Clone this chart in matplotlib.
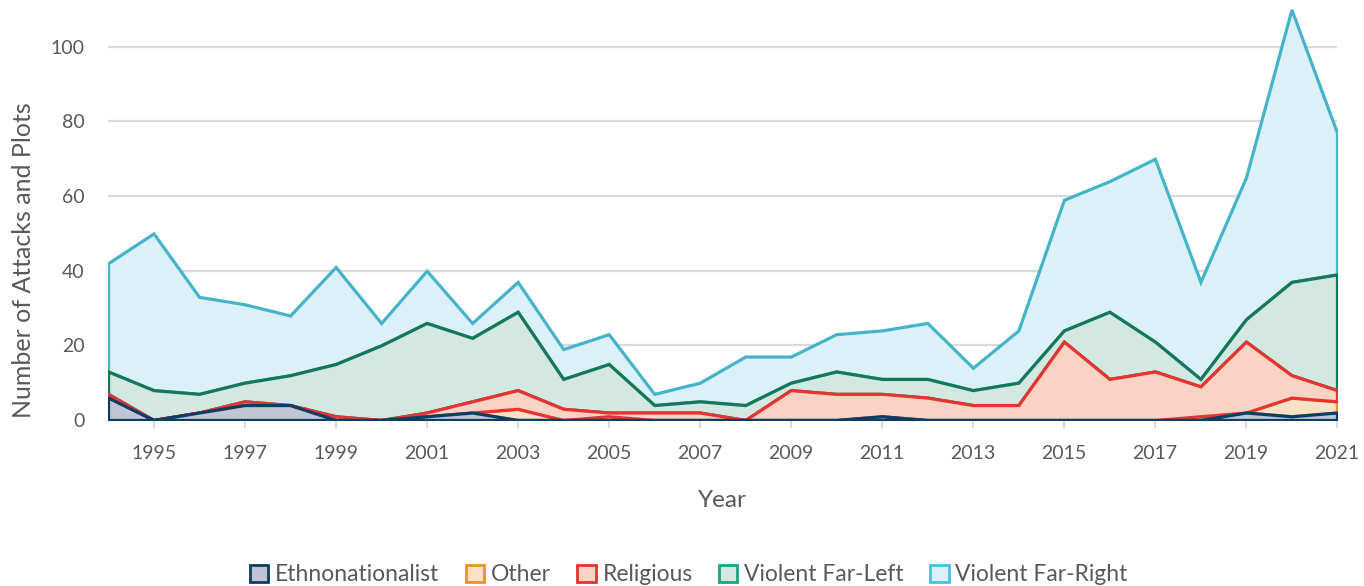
import matplotlib
matplotlib.use("Agg")
import matplotlib.pyplot as plt
from matplotlib.patches import Patch
import numpy as np

plt.rcParams["font.family"] = ["Lato", "DejaVu Sans"]

years = list(range(1994, 2022))

ethnonationalist = [6, 0, 2, 4, 4, 0, 0, 1, 2, 0, 0, 0, 0, 0,
                    0, 0, 0, 1, 0, 0, 0, 0, 0, 0, 0, 2, 1, 2]
other = [0, 0, 0, 0, 0, 0, 0, 0, 0, 3, 0, 1, 0, 0,
         0, 0, 0, 0, 0, 0, 0, 0, 0, 0, 1, 0, 5, 3]
religious = [1, 0, 0, 1, 0, 1, 0, 1, 3, 5, 3, 1, 2, 2,
             0, 8, 7, 6, 6, 4, 4, 21, 11, 13, 8, 19, 6, 3]
far_left = [6, 8, 5, 5, 8, 14, 20, 24, 17, 21, 8, 13, 2, 3,
            4, 2, 6, 4, 5, 4, 6, 3, 18, 8, 2, 6, 25, 31]
far_right = [29, 42, 26, 21, 16, 26, 6, 14, 4, 8, 8, 8, 3, 5,
             13, 7, 10, 13, 15, 6, 14, 35, 35, 49, 26, 38, 73, 38]

series_names = ["Ethnonationalist", "Other", "Religious",
                "Violent Far-Left", "Violent Far-Right"]
line_colors = ["#0e3d63", "#e8922c", "#e83330", "#14775a", "#46b4c8"]
fill_colors = ["#c1c5d4", "#fbe2c6", "#f9d3c4", "#d3e8e0", "#dcf0f7"]
legend_edges = ["#0e3d63", "#e8922c", "#e83330", "#1ea383", "#44c4e6"]
legend_fills = ["#bfc3d3", "#fbe2c6", "#f9d3c4", "#d3e8e0", "#dcf0f7"]

data = np.array([ethnonationalist, other, religious, far_left, far_right], dtype=float)
tops = np.cumsum(data, axis=0)
bottoms = np.vstack([np.zeros(len(years)), tops[:-1]])

fig = plt.figure(figsize=(13.64, 5.86), dpi=100)
ax = fig.add_axes([0.0792, 0.2833, 0.901, 0.7133])

# stacked areas, outlined all round; upper layers first so lower outlines stay visible
draw_order = [4, 3, 1, 2, 0]
for k, i in enumerate(draw_order):
    ax.fill_between(years, bottoms[i], tops[i], facecolor=fill_colors[i],
                    edgecolor=line_colors[i], linewidth=2.3, joinstyle="miter",
                    zorder=3 + k * 0.1)

ax.set_xlim(1994, 2021)
ax.set_ylim(0, 112)
ax.set_yticks([0, 20, 40, 60, 80, 100])
ax.set_xticks(list(range(1995, 2022, 2)))

ax.grid(axis="y", color="#d9d9d9", linewidth=1.6, zorder=0)
ax.set_axisbelow(True)
for s in ax.spines.values():
    s.set_visible(False)

ax.tick_params(axis="x", length=6, width=1.5, color="#d9d9d9", pad=12,
               labelsize=14, labelcolor="#595959")
ax.tick_params(axis="y", length=0, pad=17, labelsize=14, labelcolor="#595959")

ax.set_xlabel("Year", fontsize=17.5, color="#595959", labelpad=20)
ax.set_ylabel("Number of Attacks and Plots", fontsize=18, color="#595959")
ax.yaxis.set_label_coords(-0.0592, 0.383)

handles = [Patch(facecolor=legend_fills[i], edgecolor=legend_edges[i], linewidth=2)
           for i in range(5)]
fig.legend(handles, series_names, loc="lower center", bbox_to_anchor=(0.505, -0.034),
           ncol=5, frameon=False, fontsize=16.5, labelcolor="#595959",
           handlelength=0.8, handleheight=0.8, handletextpad=0.3,
           columnspacing=1.15)

fig.savefig("out.png", dpi=100)
